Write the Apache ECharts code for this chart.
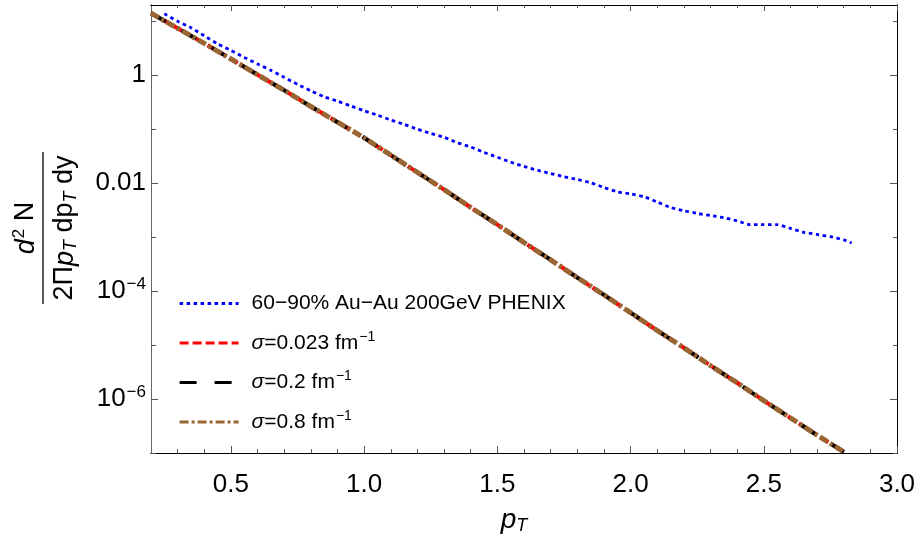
<!DOCTYPE html>
<html>
<head>
<meta charset="utf-8">
<script src="https://cdn.jsdelivr.net/npm/echarts@6/dist/echarts.min.js"></script>
<style>
  html, body { margin: 0; padding: 0; background: #fff; }
  #chart { width: 922px; height: 542px; }
</style>
</head>
<body>
<div id="chart"></div>
<script>
// Measured pion spectrum, 60-90% centrality Au-Au at 200 GeV (PHENIX)
const phenixPt = [0.25, 0.30, 0.35, 0.40, 0.45, 0.50, 0.55, 0.60, 0.65, 0.70,
  0.75, 0.80, 0.85, 0.90, 0.95, 1.00, 1.05, 1.10, 1.15, 1.20,
  1.25, 1.30, 1.35, 1.40, 1.45, 1.50, 1.55, 1.60, 1.65, 1.70,
  1.75, 1.80, 1.85, 1.90, 1.95, 2.00, 2.05, 2.10, 2.15, 2.20,
  2.25, 2.30, 2.35, 2.40, 2.45, 2.50, 2.55, 2.60, 2.65, 2.70,
  2.75, 2.80, 2.83];
const phenixYield = [13.8, 10.0, 7.59, 5.37, 3.80, 2.88, 2.14, 1.62, 1.23, 0.912,
  0.676, 0.513, 0.398, 0.331, 0.269, 0.219, 0.182, 0.148, 0.123, 0.100,
  0.0832, 0.0708, 0.0562, 0.0468, 0.0372, 0.0302, 0.0245, 0.0204, 0.0174, 0.0151,
  0.0132, 0.0117, 0.0102, 0.00832, 0.00692, 0.00631, 0.00562, 0.00447, 0.00355, 0.00309,
  0.00275, 0.00251, 0.00229, 0.00200, 0.00170, 0.00170, 0.00170, 0.00145, 0.00123, 0.00112,
  0.00102, 0.000891, 0.000776];

// Model spectra for three σ values; the three curves coincide on this scale
const modelPt = [0.2, 0.3, 0.4, 0.5, 0.6, 0.7, 0.8, 0.9, 1.0, 1.1,
  1.2, 1.3, 1.4, 1.5, 1.6, 1.7, 1.8, 1.9, 2.0, 2.1,
  2.2, 2.3, 2.4, 2.5, 2.6, 2.7, 2.8];
const yieldSigma0023 = [14.1, 7.41, 3.89, 2.00, 1.02, 0.525, 0.263, 0.135, 0.0692, 0.0331,
  0.0158, 0.00759, 0.00355, 0.00170, 7.94e-4, 3.80e-4, 1.78e-4, 8.51e-5, 3.98e-5, 1.86e-5,
  8.91e-6, 4.17e-6, 2.00e-6, 9.33e-7, 4.47e-7, 2.14e-7, 1.05e-7];
const yieldSigma02 = yieldSigma0023.slice();
const yieldSigma08 = yieldSigma0023.slice();

// Axis ticks
const xMajorTicks = [0.5, 1.0, 1.5, 2.0, 2.5, 3.0];
const xMinorTicks = [0.3, 0.4, 0.6, 0.7, 0.8, 0.9, 1.1, 1.2, 1.3, 1.4, 1.6, 1.7, 1.8, 1.9,
  2.1, 2.2, 2.3, 2.4, 2.6, 2.7, 2.8, 2.9];
const yMajorTicks = [1e-6, 1e-4, 1e-2, 1];
const yMinorTicks = [1e-7, 1e-5, 1e-3, 1e-1, 10];

const FONT = "'Liberation Sans', Arial, sans-serif";
const seriesNames = ['phenix', 's0023', 's02', 's08'];
const legendRich = {
  t: { fontFamily: FONT, fontSize: 21, color: '#000' },
  g: { fontFamily: FONT, fontSize: 21, fontStyle: 'italic', color: '#000' },
  s: { fontFamily: FONT, fontSize: 14, color: '#000', padding: [0, 0, 12, 1] }
};
const legendText = {
  phenix: '{t|60\u221290% Au\u2212Au 200GeV PHENIX}',
  s0023: '{g|\u03c3}{t|=0.023 fm}{s|\u22121}',
  s02: '{g|\u03c3}{t|=0.2 fm}{s|\u22121}',
  s08: '{g|\u03c3}{t|=0.8 fm}{s|\u22121}'
};

function pairs(xs, ys) { return xs.map((x, i) => [x, ys[i]]); }

function yLabel(v) {
  const e = Math.round(Math.log10(v));
  if (e === 0) return '{b|1}';
  if (e === -2) return '{b|0.01}';
  return '{b|10}{e|\u2212' + (-e) + '}';
}

const tickColor = '#555';
function xAxisDef(pos, ticks, len, withLabels, lineColor) {
  return {
    type: 'value', position: pos, min: 0.2, max: 3.0,
    axisLine: { show: true, onZero: false, lineStyle: { color: lineColor, width: 1 } },
    axisTick: { show: true, inside: true, length: len, customValues: ticks,
      lineStyle: { color: tickColor, width: 1 } },
    axisLabel: withLabels ? {
      show: true, customValues: ticks, margin: 19,
      fontFamily: FONT, fontSize: 26, color: '#000',
      formatter: v => v.toFixed(1)
    } : { show: false },
    splitLine: { show: false }
  };
}
function yAxisDef(pos, ticks, len, withLabels, lineColor) {
  return {
    type: 'log', logBase: 10, position: pos, min: 1e-7, max: 20,
    axisLine: { show: true, onZero: false, lineStyle: { color: lineColor, width: 1 } },
    axisTick: { show: true, inside: true, length: len, customValues: ticks,
      lineStyle: { color: tickColor, width: 1 } },
    axisLabel: withLabels ? {
      show: true, customValues: ticks, margin: 5,
      formatter: yLabel,
      rich: {
        b: { fontFamily: FONT, fontSize: 26, color: '#000' },
        e: { fontFamily: FONT, fontSize: 17, color: '#000', padding: [0, 0, 13, 1] }
      }
    } : { show: false },
    splitLine: { show: false }
  };
}

const chart = echarts.init(document.getElementById('chart'), null, { renderer: 'canvas' });
chart.setOption({
  animation: false,
  backgroundColor: '#fff',
  grid: { left: 151, right: 25, top: 5, bottom: 89, containLabel: false },
  xAxis: [
    xAxisDef('bottom', xMajorTicks, 7, true, '#000'),
    xAxisDef('bottom', xMinorTicks, 4, false, '#000'),
    xAxisDef('top', xMajorTicks, 6, false, '#000'),
    xAxisDef('top', xMinorTicks, 3, false, '#000')
  ],
  yAxis: [
    yAxisDef('left', yMajorTicks, 7, true, '#666'),
    yAxisDef('left', yMinorTicks, 5, false, '#666'),
    yAxisDef('right', yMajorTicks, 7, false, '#000'),
    yAxisDef('right', yMinorTicks, 4, false, '#000')
  ],
  legend: {
    orient: 'vertical', left: 178, top: 293, padding: 0,
    itemWidth: 59, itemHeight: 12, itemGap: 16,
    data: seriesNames,
    formatter: name => legendText[name],
    itemStyle: { opacity: 0, borderWidth: 0 },
    lineStyle: { width: 3.2 },
    textStyle: { fontFamily: FONT, fontSize: 21, color: '#000', padding: [0, 0, 0, 8], rich: legendRich }
  },
  series: [
    {
      name: 'phenix', type: 'line', data: pairs(phenixPt, phenixYield),
      showSymbol: false, symbol: 'none', smooth: 0.2,
      itemStyle: { color: '#0000ff' },
      lineStyle: { color: '#0000ff', width: 2.8, type: [3.5, 3.5], cap: 'butt' }
    },
    {
      name: 's0023', type: 'line', data: pairs(modelPt, yieldSigma0023),
      showSymbol: false, symbol: 'none',
      itemStyle: { color: '#ff0000' },
      lineStyle: { color: '#ff0000', width: 4, type: [9, 4], cap: 'butt' }
    },
    {
      name: 's02', type: 'line', data: pairs(modelPt, yieldSigma02),
      showSymbol: false, symbol: 'none',
      itemStyle: { color: '#000000' },
      lineStyle: { color: '#000000', width: 4, type: [17, 18], cap: 'butt' }
    },
    {
      name: 's08', type: 'line', data: pairs(modelPt, yieldSigma08),
      showSymbol: false, symbol: 'none',
      itemStyle: { color: '#996633' },
      lineStyle: { color: '#996633', width: 5, type: [9, 3, 3, 3], cap: 'butt' }
    }
  ],
  graphic: [
    {
      // rotated fraction: d²N / (2Π p_T dp_T dy)
      type: 'group', x: 43, y: 228, rotation: Math.PI / 2,
      children: [
        {
          type: 'text', x: 0, y: -17,
          style: {
            text: '{i|d}{s|2}{r| N}', align: 'center', verticalAlign: 'middle',
            rich: {
              i: { fontFamily: FONT, fontSize: 27, fontStyle: 'italic', fill: '#000' },
              r: { fontFamily: FONT, fontSize: 27, fill: '#000' },
              s: { fontFamily: FONT, fontSize: 17, fill: '#000', padding: [0, 0, 13, 1] }
            }
          }
        },
        {
          type: 'line', shape: { x1: -76, y1: 0, x2: 76, y2: 0 },
          style: { stroke: '#000', lineWidth: 1.3 }
        },
        {
          type: 'text', x: 0, y: 22,
          style: {
            text: '{r|2\u03a0}{i|p}{b|T}{r| dp}{b|T}{r| dy}', align: 'center', verticalAlign: 'middle',
            rich: {
              i: { fontFamily: FONT, fontSize: 27, fontStyle: 'italic', fill: '#000' },
              r: { fontFamily: FONT, fontSize: 27, fill: '#000' },
              b: { fontFamily: FONT, fontSize: 18, fontStyle: 'italic', fill: '#000', padding: [12, 0, 0, 0] }
            }
          }
        }
      ]
    },
    {
      type: 'text', x: 514, y: 520,
      style: {
        text: '{i|p}{b|T}', align: 'center', verticalAlign: 'middle',
        rich: {
          i: { fontFamily: FONT, fontSize: 28, fontStyle: 'italic', fill: '#000' },
          b: { fontFamily: FONT, fontSize: 18, fontStyle: 'italic', fill: '#000', padding: [12, 0, 0, 0] }
        }
      }
    }
  ]
});
</script>
</body>
</html>
